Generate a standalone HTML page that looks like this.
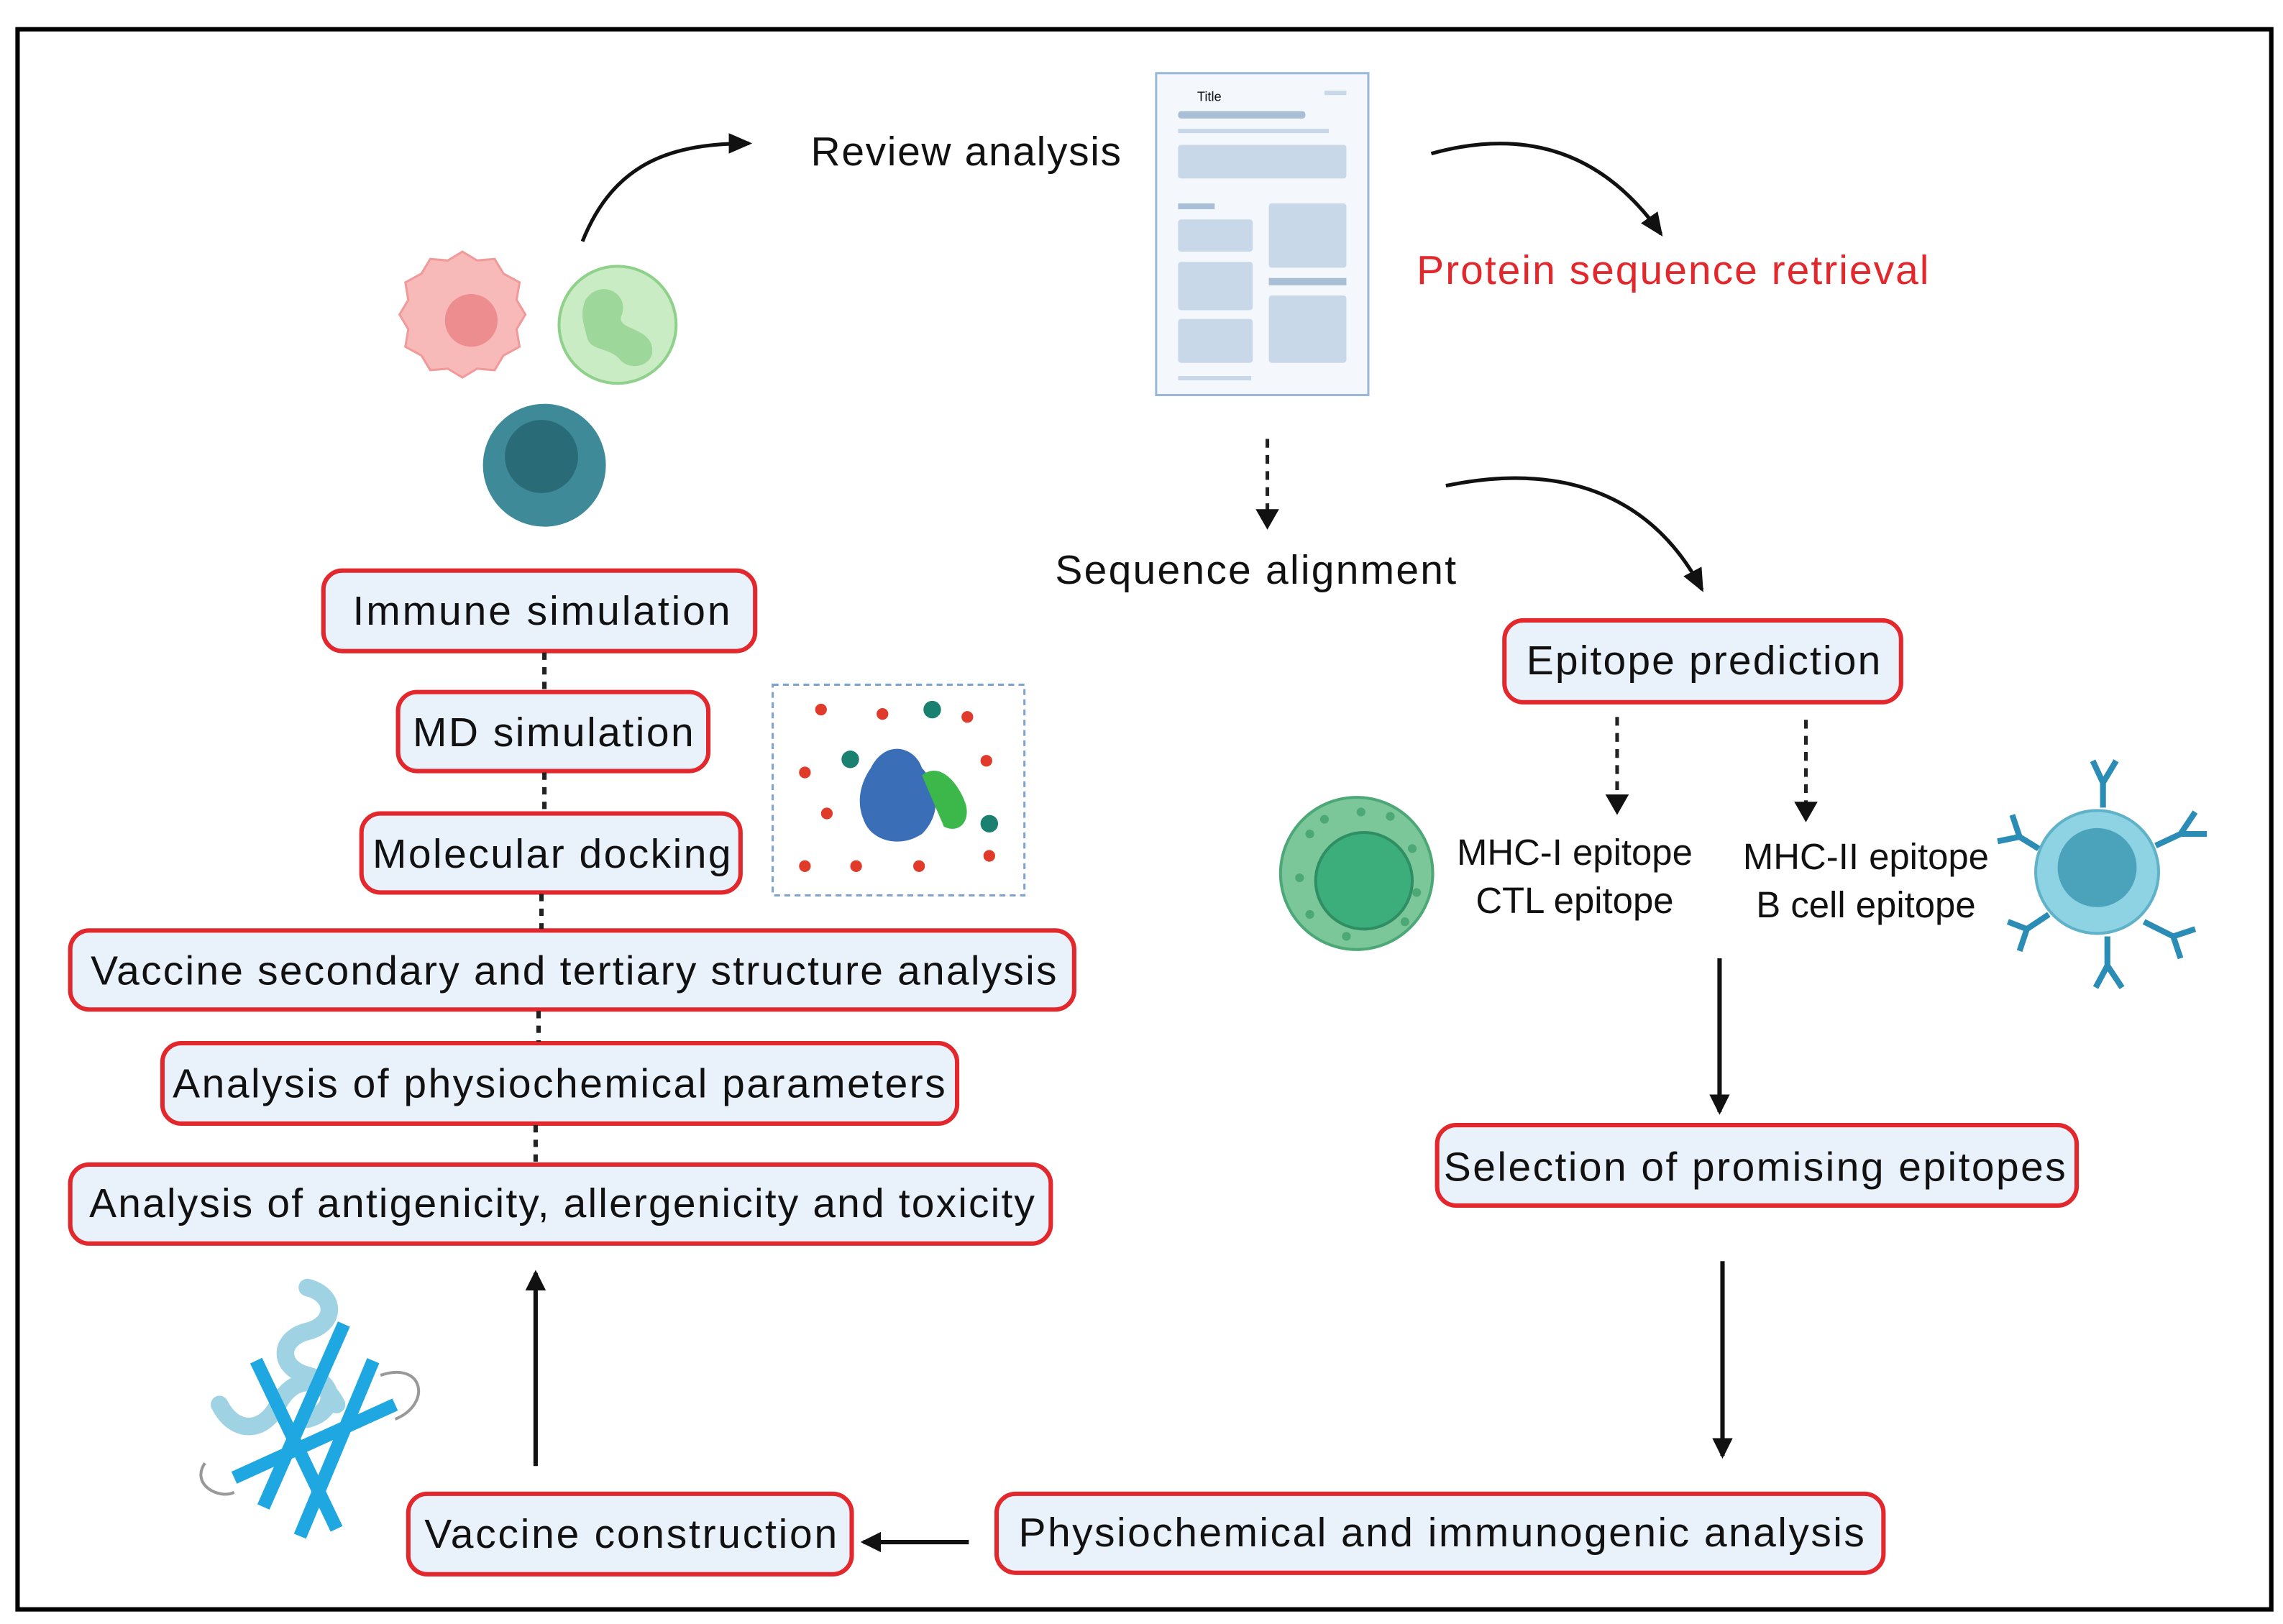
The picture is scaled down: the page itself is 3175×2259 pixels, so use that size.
<!DOCTYPE html>
<html><head><meta charset="utf-8"><style>
html,body{margin:0;padding:0;background:#fff;}
svg{display:block;}
text{font-family:"Liberation Sans",Arial,sans-serif;fill:#111;}
</style></head><body>
<svg width="3175" height="2259" viewBox="0 0 1560 1110" preserveAspectRatio="none" xmlns="http://www.w3.org/2000/svg">
<defs>
<marker id="ah" markerWidth="14" markerHeight="14" refX="12" refY="7" orient="auto" markerUnits="userSpaceOnUse">
<path d="M0,0 L14,7 L0,14 z" fill="#111"/></marker>
<marker id="ah2" markerWidth="16" markerHeight="14" refX="14" refY="7" orient="auto" markerUnits="userSpaceOnUse">
<path d="M0,0 L16,7 L0,14 z" fill="#111"/></marker>
</defs>
<rect x="12" y="20" width="1540" height="1080" fill="#fff" stroke="#000" stroke-width="3"/>

<g fill="#e9f1fb" stroke="#e2282c" stroke-width="3">
<rect x="221" y="390" width="295" height="55" rx="13"/>
<rect x="272" y="473" width="212" height="54" rx="13"/>
<rect x="247" y="556" width="259" height="54" rx="13"/>
<rect x="48" y="636" width="686" height="54" rx="13"/>
<rect x="111" y="713" width="543" height="55" rx="13"/>
<rect x="48" y="796" width="670" height="54" rx="13"/>
<rect x="279" y="1021" width="303" height="55" rx="13"/>
<rect x="681" y="1021" width="606" height="54" rx="13"/>
<rect x="982" y="769" width="437" height="55" rx="13"/>
<rect x="1028" y="424" width="271" height="56" rx="13"/>
</g>
<g font-size="28" text-anchor="middle">
<text x="370" y="427" textLength="258">Immune simulation</text>
<text x="378" y="510" textLength="192">MD simulation</text>
<text x="377" y="593" textLength="245">Molecular docking</text>
<text x="392" y="673" textLength="660">Vaccine secondary and tertiary structure analysis</text>
<text x="382" y="750" textLength="528">Analysis of physiochemical parameters</text>
<text x="384" y="832" textLength="646">Analysis of antigenicity, allergenicity and toxicity</text>
<text x="431" y="1058" textLength="282">Vaccine construction</text>
<text x="985" y="1057" textLength="578">Physiochemical and immunogenic analysis</text>
<text x="1199" y="807" textLength="425">Selection of promising epitopes</text>
<text x="1164" y="461" textLength="242">Epitope prediction</text>
<text x="660" y="113" textLength="212">Review analysis</text>
<text x="1143" y="194" textLength="350" style="fill:#e2282c">Protein sequence retrieval</text>
<text x="858" y="399" textLength="274">Sequence alignment</text>
</g>
<g font-size="25" text-anchor="middle">
<text x="1076" y="591">MHC-I epitope</text>
<text x="1076" y="624">CTL epitope</text>
<text x="1275" y="594">MHC-II epitope</text>
<text x="1275" y="627">B cell epitope</text>
</g>

<g stroke="#222" stroke-width="3" stroke-dasharray="5,5">
<line x1="372" y1="446" x2="372" y2="472"/>
<line x1="372" y1="528" x2="372" y2="555"/>
<line x1="370" y1="611" x2="370" y2="635"/>
<line x1="368" y1="691" x2="368" y2="712"/>
<line x1="366" y1="769" x2="366" y2="795"/>
</g>
<g stroke="#222" stroke-width="2.5" stroke-dasharray="6,5">
<line x1="866" y1="300" x2="866" y2="350"/>
<line x1="1105" y1="490" x2="1105" y2="545"/>
<line x1="1234" y1="492" x2="1234" y2="550"/>
</g>
<g fill="#111">
<path d="M858,348 L874,348 L866,362 z"/>
<path d="M1097,543 L1113,543 L1105,557 z"/>
<path d="M1226,548 L1242,548 L1234,562 z"/>
</g>
<g stroke="#111" stroke-width="3" fill="none">
<line x1="1175" y1="655" x2="1175" y2="760" marker-end="url(#ah)"/>
<line x1="1177" y1="862" x2="1177" y2="995" marker-end="url(#ah)"/>
<line x1="366" y1="1002" x2="366" y2="870" marker-end="url(#ah)"/>
<line x1="662" y1="1054" x2="590" y2="1054" marker-end="url(#ah)"/>
</g>
<g stroke="#111" stroke-width="2.5" fill="none">
<path d="M398,165 C420,110 460,98 512,98" marker-end="url(#ah2)"/>
<path d="M978,105 C1050,85 1100,110 1135,160" marker-end="url(#ah2)"/>
<path d="M988,332 C1070,315 1130,340 1163,403" marker-end="url(#ah2)"/>
</g>

<rect x="790" y="50" width="145" height="220" fill="#f4f8fd" stroke="#9bb8d8" stroke-width="1.5"/>
<text x="818" y="69" font-size="9">Title</text>
<g fill="#c9d8e8">
<rect x="905" y="62" width="15" height="3"/>
<rect x="805" y="76" width="87" height="5" rx="2" fill="#a9bfd6"/>
<rect x="805" y="88" width="103" height="3"/>
<rect x="805" y="99" width="115" height="23" rx="2"/>
<rect x="805" y="139" width="25" height="4" fill="#a9bfd6"/>
<rect x="805" y="150" width="51" height="22" rx="2"/>
<rect x="805" y="179" width="51" height="33" rx="2"/>
<rect x="805" y="218" width="51" height="30" rx="2"/>
<rect x="867" y="139" width="53" height="44" rx="2"/>
<rect x="867" y="190" width="53" height="5" fill="#a9bfd6"/>
<rect x="867" y="202" width="53" height="46" rx="2"/>
<rect x="805" y="257" width="50" height="3"/>
</g>

<path d="M316,172 l10,6 12,-1 6,10 11,6 -2,12 6,10 -6,10 2,12 -11,6 -6,10 -12,-1 -10,6 -10,-6 -12,1 -6,-10 -11,-6 2,-12 -6,-10 6,-10 -2,-12 11,-6 6,-10 12,1 z" fill="#f8b9b9" stroke="#f09a9a" stroke-width="1.5"/>
<circle cx="322" cy="219" r="18" fill="#ee8d8f"/>
<circle cx="422" cy="222" r="40" fill="#c9ecc4" stroke="#8fd18a" stroke-width="2"/>
<path d="M400,205 c10,-15 30,-5 25,10 c-5,10 15,8 20,20 c5,15 -15,20 -22,10 c-8,-8 -20,-5 -22,-15 c-2,-8 -5,-15 -1,-25 z" fill="#9dd89a"/>
<circle cx="372" cy="318" r="42" fill="#3f8a98"/>
<circle cx="370" cy="312" r="25" fill="#2a6b78"/>

<circle cx="927" cy="597" r="52" fill="#7cc79a" stroke="#4da877" stroke-width="2"/>
<circle cx="932" cy="602" r="33" fill="#3bae7b" stroke="#2f8f63" stroke-width="2"/>
<g fill="#4da877">
<circle cx="895" cy="570" r="3"/><circle cx="905" cy="560" r="3"/><circle cx="950" cy="558" r="3"/><circle cx="965" cy="580" r="3"/><circle cx="888" cy="600" r="3"/><circle cx="895" cy="625" r="3"/><circle cx="920" cy="640" r="3"/><circle cx="960" cy="630" r="3"/><circle cx="968" cy="610" r="3"/><circle cx="930" cy="555" r="3"/>
</g>
<circle cx="1433" cy="596" r="42" fill="#8dd3e3" stroke="#5fb2c8" stroke-width="2"/>
<circle cx="1433" cy="593" r="27" fill="#4aa3bb"/>
<g stroke="#2b8db5" stroke-width="4" fill="none">
<path d="M1437,552 L1437,535 M1437,535 L1430,520 M1437,535 L1446,520"/>
<path d="M1473,578 L1490,570 M1490,570 L1500,555 M1490,570 L1508,570"/>
<path d="M1465,630 L1485,640 M1485,640 L1500,635 M1485,640 L1490,655"/>
<path d="M1440,640 L1440,660 M1440,660 L1432,675 M1440,660 L1450,675"/>
<path d="M1400,625 L1385,635 M1385,635 L1372,630 M1385,635 L1380,650"/>
<path d="M1393,580 L1380,572 M1380,572 L1365,575 M1380,572 L1375,557"/>
</g>

<rect x="528" y="468" width="172" height="144" fill="#fff" stroke="#7fa3cf" stroke-width="1.5" stroke-dasharray="4,3"/>
<g fill="#e03a2a">
<circle cx="561" cy="485" r="4"/><circle cx="603" cy="488" r="4"/><circle cx="661" cy="490" r="4"/><circle cx="550" cy="528" r="4"/><circle cx="565" cy="556" r="4"/><circle cx="674" cy="520" r="4"/><circle cx="550" cy="592" r="4"/><circle cx="585" cy="592" r="4"/><circle cx="628" cy="592" r="4"/><circle cx="676" cy="585" r="4"/>
</g>
<g fill="#1a8070"><circle cx="637" cy="485" r="6"/><circle cx="581" cy="519" r="6"/><circle cx="676" cy="563" r="6"/></g>
<path d="M595,525 c10,-20 30,-15 35,0 c10,10 15,30 0,45 c-15,10 -35,5 -40,-10 c-5,-12 -2,-25 5,-35 z" fill="#3a6fb8"/>
<path d="M630,530 c12,-10 25,5 30,20 c3,12 -5,20 -15,15 z" fill="#3cb84a"/>

<g stroke="#9fd3e3" stroke-width="12" fill="none" stroke-linecap="round">
<path d="M210,880 c20,5 20,25 0,30 c-20,5 -20,25 0,30 c20,5 20,25 0,30"/>
<path d="M150,960 c10,20 30,20 40,0 c10,-20 30,-20 40,0"/>
</g>
<g stroke="#1ea7e0" stroke-width="9" fill="none">
<line x1="180" y1="1030" x2="235" y2="905"/>
<line x1="205" y1="1050" x2="255" y2="930"/>
<line x1="160" y1="1010" x2="270" y2="960"/>
<line x1="175" y1="930" x2="230" y2="1045"/>
</g>
<path d="M140,1000 c-10,15 10,25 20,20 M260,940 c30,-10 35,20 10,30" stroke="#999" stroke-width="2" fill="none"/>
</svg>
</body></html>
